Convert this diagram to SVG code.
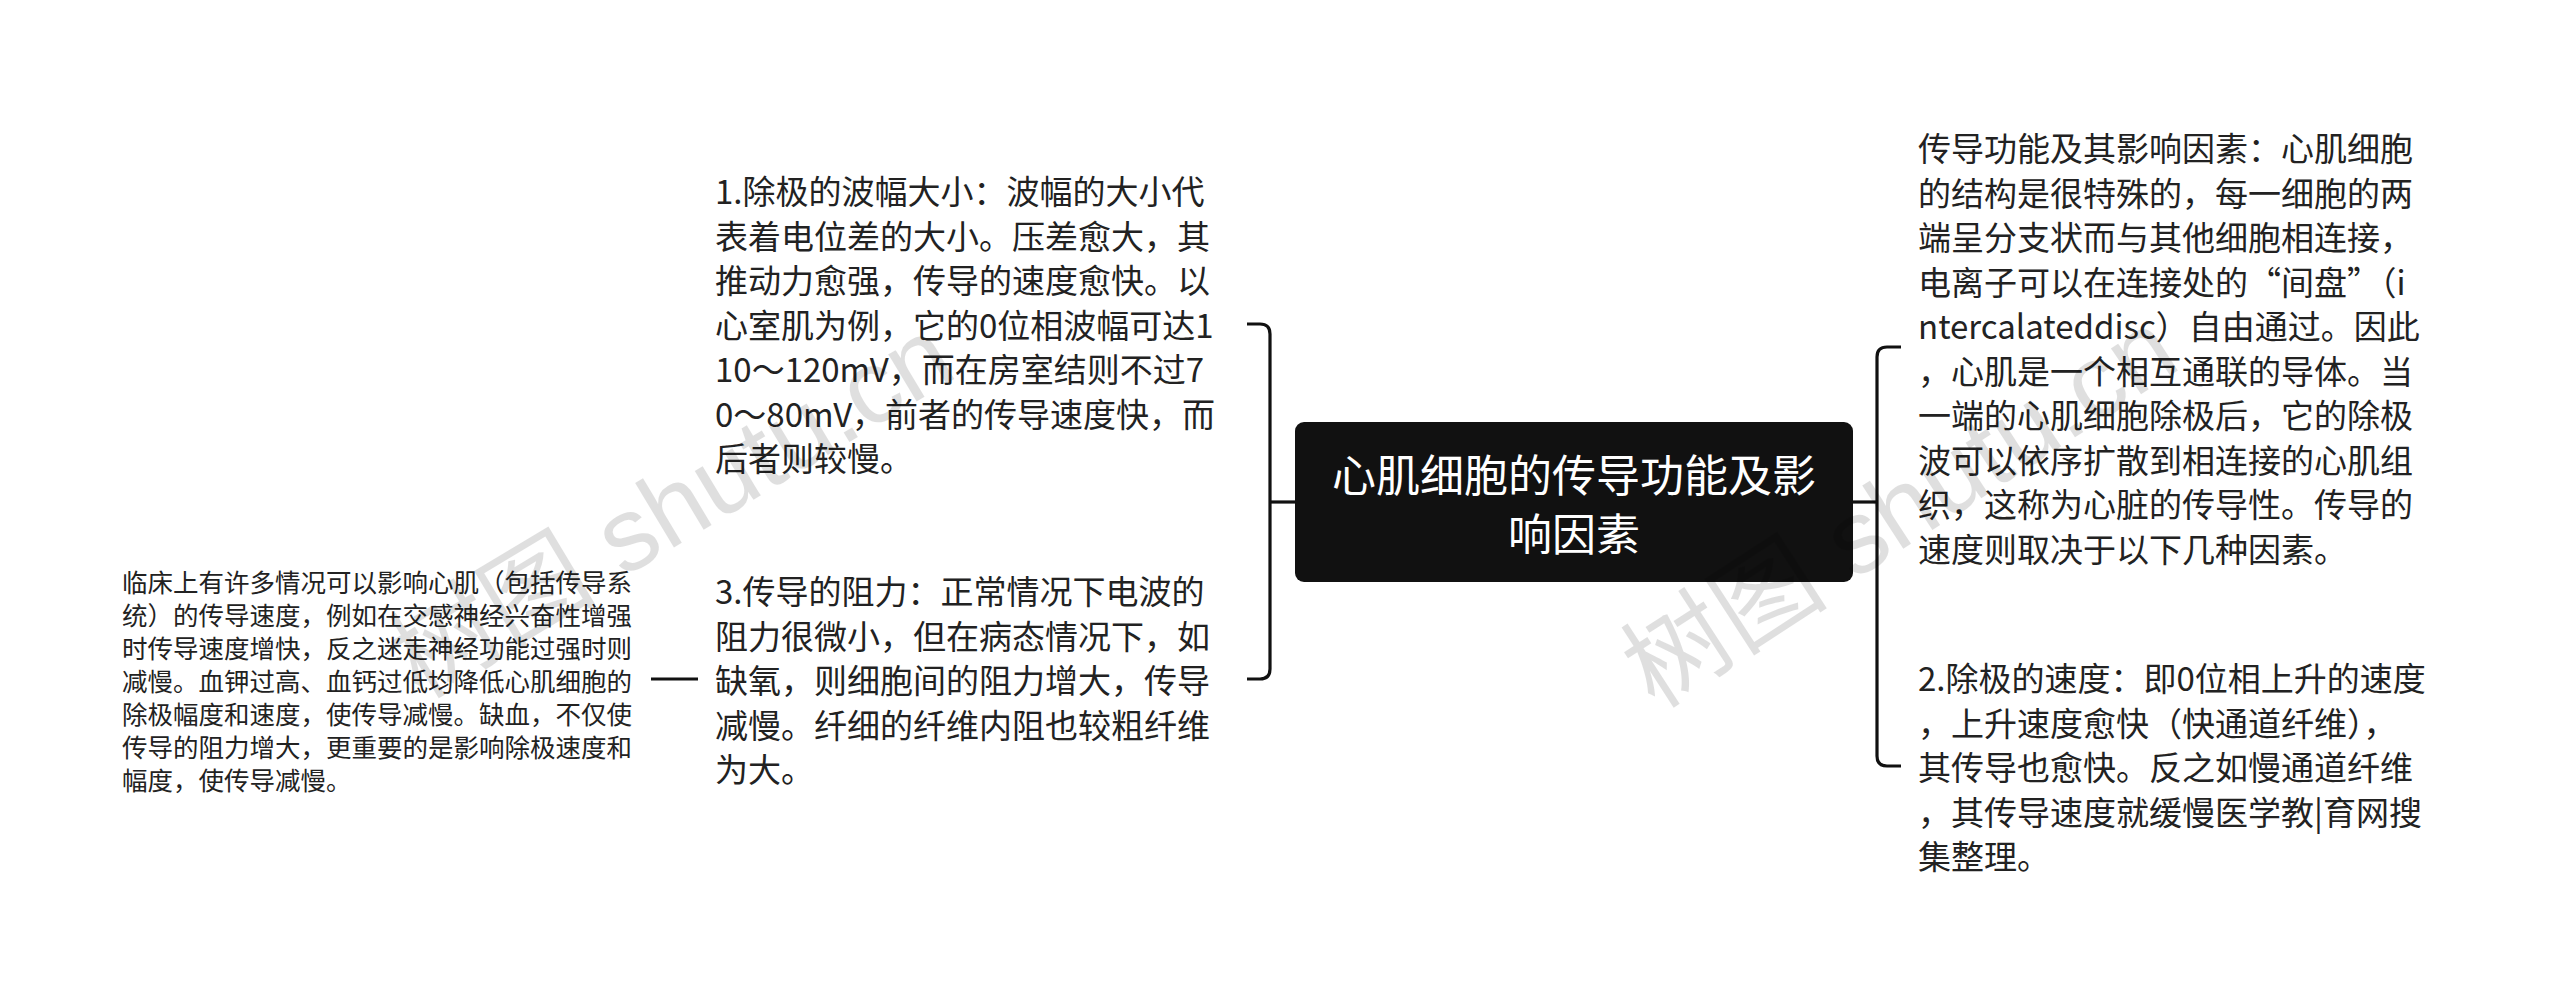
<svg xmlns="http://www.w3.org/2000/svg" width="2560" height="1004" viewBox="0 0 2560 1004">
<style>
.t{font-family:"Noto Sans CJK SC","Noto Sans",sans-serif;font-size:33px;fill:#222;dominant-baseline:central}
.s{font-family:"Noto Sans CJK SC","Noto Sans",sans-serif;font-size:25.5px;fill:#222;dominant-baseline:central}
.c{font-family:"Noto Sans CJK SC","Noto Sans",sans-serif;font-size:44px;fill:#fff;dominant-baseline:central;text-anchor:middle}
.ln{fill:none;stroke:#111;stroke-width:3.2;stroke-linecap:butt}
.wm{font-family:"Liberation Sans","Noto Sans CJK SC",sans-serif;font-size:104px;fill:#000;opacity:0.12}
</style>
<rect width="2560" height="1004" fill="#fff"/>
<g id="connectors">
<path class="ln" d="M1295,502 H1270"/>
<path class="ln" d="M1247,324 H1260 Q1270,324 1270,334 V669 Q1270,679 1260,679 H1247"/>
<path class="ln" d="M1853,502 H1877"/>
<path class="ln" d="M1901,347 H1887 Q1877,347 1877,357 V756 Q1877,766 1887,766 H1901"/>
<path class="ln" d="M698,679 H651"/>
</g>
<g id="root">
<rect x="1295" y="422" width="558" height="160" rx="9" fill="#111"/>
<text class="c" x="1574" y="473">心肌细胞的传导功能及影</text>
<text class="c" x="1574" y="532">响因素</text>
</g>
<g id="node1">
<text class="t" x="715" y="190">1.除极的波幅大小：波幅的大小代</text>
<text class="t" x="715" y="234.5">表着电位差的大小。压差愈大，其</text>
<text class="t" x="715" y="279">推动力愈强，传导的速度愈快。以</text>
<text class="t" x="715" y="323.5">心室肌为例，它的0位相波幅可达1</text>
<text class="t" x="715" y="368">10～120mV，而在房室结则不过7</text>
<text class="t" x="715" y="412.5">0～80mV，前者的传导速度快，而</text>
<text class="t" x="715" y="457">后者则较慢。</text>
</g>
<g id="node3">
<text class="t" x="715" y="590">3.传导的阻力：正常情况下电波的</text>
<text class="t" x="715" y="634.5">阻力很微小，但在病态情况下，如</text>
<text class="t" x="715" y="679">缺氧，则细胞间的阻力增大，传导</text>
<text class="t" x="715" y="723.5">减慢。纤细的纤维内阻也较粗纤维</text>
<text class="t" x="715" y="768">为大。</text>
</g>
<g id="node3a">
<text class="s" x="122" y="580">临床上有许多情况可以影响心肌（包括传导系</text>
<text class="s" x="122" y="613">统）的传导速度，例如在交感神经兴奋性增强</text>
<text class="s" x="122" y="646">时传导速度增快，反之迷走神经功能过强时则</text>
<text class="s" x="122" y="679">减慢。血钾过高、血钙过低均降低心肌细胞的</text>
<text class="s" x="122" y="712">除极幅度和速度，使传导减慢。缺血，不仅使</text>
<text class="s" x="122" y="745">传导的阻力增大，更重要的是影响除极速度和</text>
<text class="s" x="122" y="778">幅度，使传导减慢。</text>
</g>
<g id="nodeR1">
<text class="t" x="1918" y="147">传导功能及其影响因素：心肌细胞</text>
<text class="t" x="1918" y="191.5">的结构是很特殊的，每一细胞的两</text>
<text class="t" x="1918" y="236">端呈分支状而与其他细胞相连接，</text>
<text class="t" x="1918" y="280.5">电离子可以在连接处的“间盘”（i</text>
<text class="t" x="1918" y="325">ntercalateddisc）自由通过。因此</text>
<text class="t" x="1918" y="369.5">，心肌是一个相互通联的导体。当</text>
<text class="t" x="1918" y="414">一端的心肌细胞除极后，它的除极</text>
<text class="t" x="1918" y="458.5">波可以依序扩散到相连接的心肌组</text>
<text class="t" x="1918" y="503">织，这称为心脏的传导性。传导的</text>
<text class="t" x="1918" y="547.5">速度则取决于以下几种因素。</text>
</g>
<g id="nodeR2">
<text class="t" x="1918" y="677">2.除极的速度：即0位相上升的速度</text>
<text class="t" x="1918" y="721.5">，上升速度愈快（快通道纤维），</text>
<text class="t" x="1918" y="766">其传导也愈快。反之如慢通道纤维</text>
<text class="t" x="1918" y="810.5">，其传导速度就缓慢医学教|育网搜</text>
<text class="t" x="1918" y="855">集整理。</text>
</g>
<g id="watermark">
<text class="wm" transform="translate(420,700) rotate(-31)">树图 shutu.cn</text>
<text class="wm" transform="translate(1655,710) rotate(-33)">树图 shutu.cn</text>
</g>
</svg>
